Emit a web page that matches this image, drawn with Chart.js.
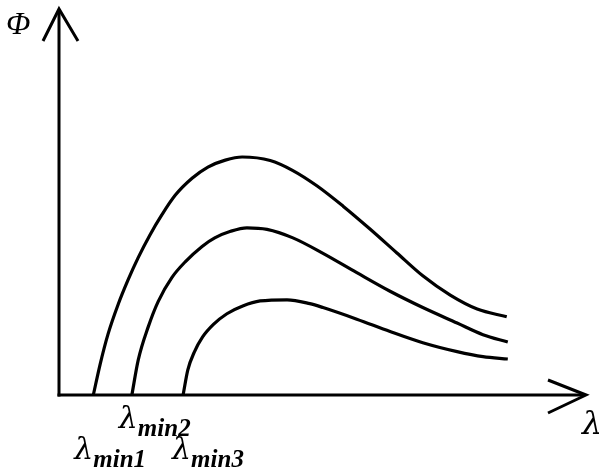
<!DOCTYPE html>
<html>
<head>
<meta charset="utf-8">
<script src="https://cdn.jsdelivr.net/npm/chart.js@4"></script>
<style>
html,body{margin:0;padding:0;background:#fff;}
#wrap{width:599px;height:472px;position:relative;}
</style>
</head>
<body>
<div id="wrap"><canvas id="c" width="599" height="472"></canvas></div>
<script>
// λ (arbitrary units) and Φ (arbitrary units) for three curves
const curve1X = [6.5, 7.8, 9.3, 11.2, 13.1, 15.0, 17.2, 19.5, 22.0, 25.2, 28.2, 31.5, 34.7, 40.0, 44.3, 48.9, 53.8, 58.9, 64.0, 68.9, 74.1, 79.2, 84.8];
const curve1Y = [0, 8.0, 15.8, 23.4, 29.8, 35.5, 41.3, 46.6, 51.6, 56.0, 58.9, 60.7, 61.5, 60.6, 58.0, 54.0, 48.8, 42.9, 36.7, 30.8, 25.8, 22.2, 20.2];
const curve2X = [13.8, 15.0, 16.9, 18.8, 21.4, 23.9, 27.1, 29.5, 32.5, 35.6, 39.4, 44.3, 50.0, 56.4, 62.7, 68.9, 75.4, 80.3, 85.0];
const curve2Y = [0, 9.0, 17.6, 24.2, 30.4, 34.4, 38.4, 40.6, 42.3, 43.2, 42.8, 40.6, 36.6, 31.6, 26.8, 22.6, 18.6, 15.6, 13.7];
const curve3X = [23.5, 24.4, 25.6, 27.2, 29.3, 31.8, 34.8, 38.1, 43.2, 47.5, 50.0, 56.4, 62.7, 68.9, 75.4, 80.3, 85.0];
const curve3Y = [0, 6.5, 11.0, 15.0, 18.3, 21.0, 23.0, 24.3, 24.6, 23.6, 22.6, 19.6, 16.4, 13.5, 11.2, 9.9, 9.3];
const seriesNames = ['λmin1', 'λmin2', 'λmin3'];
const subLabels = ['min1', 'min2', 'min3'];
const axisLabelY = 'Φ';
const axisLabelX = 'λ';

function pts(xs, ys){ return xs.map((x,i)=>({x:x, y:ys[i]})); }

const axesPlugin = {
  id: 'axesArrows',
  afterDatasetsDraw(chart){
    const ctx = chart.ctx;
    const xs = chart.scales.x, ys = chart.scales.y;
    const x0 = xs.getPixelForValue(0), y0 = ys.getPixelForValue(0);
    const xEnd = xs.getPixelForValue(100), yTop = ys.getPixelForValue(100);
    ctx.save();
    ctx.strokeStyle = '#000';
    ctx.lineWidth = 3;
    ctx.lineCap = 'butt';
    // y axis
    ctx.beginPath(); ctx.moveTo(x0, y0+1.5); ctx.lineTo(x0, yTop+2); ctx.stroke();
    ctx.beginPath(); ctx.moveTo(x0-16, yTop+33); ctx.lineTo(x0, yTop+1); ctx.lineTo(x0+19, yTop+33); ctx.stroke();
    // x axis
    ctx.beginPath(); ctx.moveTo(x0-1.5, y0); ctx.lineTo(xEnd-2, y0); ctx.stroke();
    ctx.beginPath(); ctx.moveTo(xEnd-39, y0-15); ctx.lineTo(xEnd-1, y0); ctx.lineTo(xEnd-39, y0+18); ctx.stroke();
    // labels
    ctx.fillStyle = '#000';
    ctx.textBaseline = 'alphabetic';
    ctx.font = 'italic 32px "Liberation Serif", serif';
    ctx.fillText(axisLabelY, 6, 34);
    ctx.font = 'italic 32px "DejaVu Serif", serif';
    ctx.fillText(axisLabelX, 582, 434);
    const starts = [curve1X[0], curve2X[0], curve3X[0]];
    const offsets = [-18, -12, -10];
    const baselines = [467, 436, 467];
    for (let i=0;i<3;i++){
      const px = xs.getPixelForValue(starts[i]) + offsets[i];
      ctx.font = 'italic 30px "DejaVu Serif", serif';
      ctx.fillText('λ', px - 1, baselines[i]-8);
      ctx.font = 'italic bold 25px "Liberation Serif", serif';
      ctx.fillText(subLabels[i], px + 18, baselines[i]);
    }
    ctx.restore();
  }
};

new Chart(document.getElementById('c'), {
  type: 'line',
  data: {
    datasets: [
      {label: seriesNames[0], data: pts(curve1X, curve1Y)},
      {label: seriesNames[1], data: pts(curve2X, curve2Y)},
      {label: seriesNames[2], data: pts(curve3X, curve3Y)}
    ].map(d => Object.assign(d, {borderColor:'#000', borderWidth:3.2, pointRadius:0, cubicInterpolationMode:'monotone', fill:false, clip:false}))
  },
  options: {
    responsive: false,
    animation: false,
    events: [],
    layout: {padding: {left: 59, right: 12, top: 8, bottom: 77}},
    plugins: {legend:{display:false}, tooltip:{enabled:false}},
    scales: {
      x: {type:'linear', display:false, min:0, max:100},
      y: {type:'linear', display:false, min:0, max:100}
    }
  },
  plugins: [axesPlugin]
});
</script>
</body>
</html>
